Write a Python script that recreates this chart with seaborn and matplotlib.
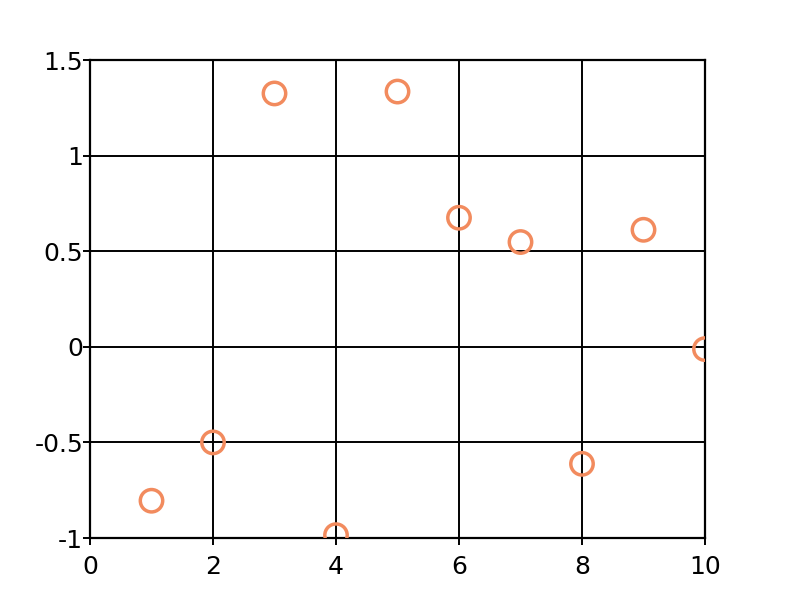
import seaborn as sns
import matplotlib.pyplot as plt
import pandas as pd

x_vals = [1, 2, 3, 4, 5, 6, 7, 8, 9, 10]
y_vals = [-0.805, -0.50, 1.325, -0.985, 1.335, 0.675, 0.548, -0.612, 0.612, -0.012]
x_ticks = [0, 2, 4, 6, 8, 10]
y_ticks = [-1, -0.5, 0, 0.5, 1, 1.5]
y_labels = ['-1', '-0.5', '0', '0.5', '1', '1.5']

df = pd.DataFrame({'x': x_vals, 'y': y_vals})

sns.set_theme(style='white')
plt.rcParams['font.family'] = ['DejaVu Sans']

fig = plt.figure(figsize=(8, 6), dpi=100)
ax = fig.add_axes([0.1125, 0.1033, 0.76875, 0.7967])

sns.scatterplot(data=df, x='x', y='y', ax=ax, s=260, marker='o',
                facecolor='none', edgecolor='#f28b5e', linewidth=2.5, zorder=3)

ax.set_xlim(0, 10)
ax.set_ylim(-1, 1.5)
ax.set_xticks(x_ticks)
ax.set_yticks(y_ticks)
ax.set_yticklabels(y_labels)
ax.grid(True, color='black', linewidth=1.4)
ax.set_axisbelow(True)
for sp in ax.spines.values():
    sp.set_color('black')
    sp.set_linewidth(1.6)
ax.tick_params(axis='both', direction='out', length=5, width=1.4, color='black',
               labelsize=18, labelcolor='black', bottom=True, left=True)
ax.tick_params(axis='x', pad=7)
ax.tick_params(axis='y', pad=0)
ax.set_xlabel('')
ax.set_ylabel('')

fig.savefig('out.png', dpi=100)
